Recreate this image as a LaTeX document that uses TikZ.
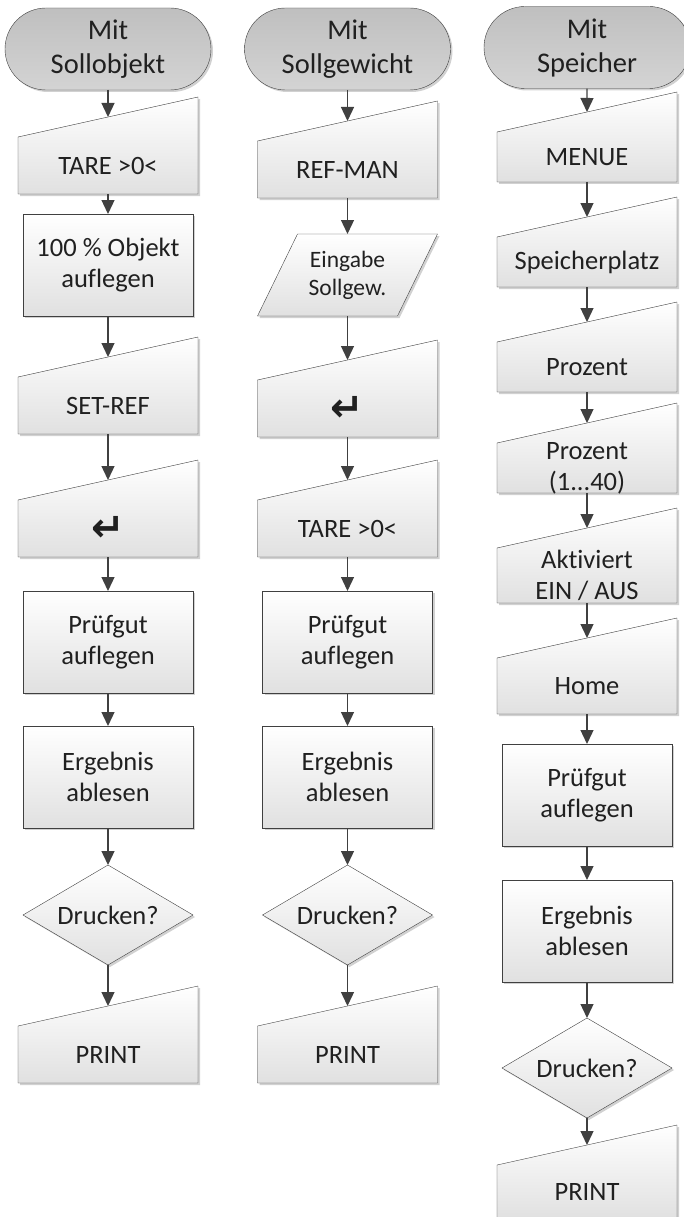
\documentclass[tikz,border=0pt]{standalone}
\usepackage{fontspec}
\setmainfont{Carlito}[Ligatures=NoCommon]
\newfontfamily\symbolfont{DejaVu Sans}
\usepackage{xcolor}
\usepackage{tikz}
\usetikzlibrary{calc, positioning, arrows.meta, shapes.geometric, shapes.misc, shadows, backgrounds}
\definecolor{linegray}{HTML}{404040}
\definecolor{textgray}{HTML}{202020}
\newcommand{\returnkey}{{\symbolfont\bfseries\fontsize{40}{40}\selectfont ↵}}
\newcommand{\squeezed}[2]{\parbox[c][#1][c]{180pt}{\centering #2}}
\tikzset{
	node distance = 40pt,
	line width = 1.2pt,
	>={Triangle[length=14pt, width=13pt]},
	every node/.style={
		font=\fontsize{26.5}{31}\selectfont,
		text=textgray,
		align=center,
		inner sep=0pt,
		outer sep=0pt
	},
	softshadow/.style={
		drop shadow={shadow xshift=2pt, shadow yshift=-2pt, fill=black, opacity=.18}
	},
	terminal/.style={
		draw=linegray,
		rounded rectangle,
		minimum width=206pt,
		minimum height=82pt,
		top color=black!25,
		bottom color=black!17,
		softshadow,
		font=\fontsize{28.5}{34}\selectfont
	},
	process/.style={
		draw=linegray,
		rectangle,
		minimum width=170pt,
		minimum height=102pt,
		top color=white,
		bottom color=black!12,
		softshadow
	},
	decision/.style={
		draw=linegray,
		diamond,
		aspect=1.7,
		minimum width=170pt,
		minimum height=100pt,
		top color=white,
		bottom color=black!12,
		softshadow
	},
	inputbox/.style={
		rectangle,
		minimum width=180pt,
		minimum height=57pt
	},
	databox/.style={
		rectangle,
		minimum width=180pt,
		minimum height=82pt,
		font=\fontsize{23.5}{28}\selectfont
	},
	inputshape/.style={
		draw=linegray,
		top color=white,
		bottom color=black!12,
		softshadow
	},
	edge/.style={
		->,
		draw=linegray,
		line width=1.3pt
	}
}

\begin{document}
\begin{tikzpicture}
\useasboundingbox (0,0) rectangle (683pt,-1217pt);

% ---
% Mit Sollobjekt
% ---
\node[terminal] (s0) at (108pt,-49pt) {Mit\\Sollobjekt};
\node[inputbox, below=47pt of s0] (s1) {TARE >0<};
\node[process, below=20pt of s1] (s2) {100 \% Objekt\\auflegen};
\node[inputbox, below=61pt of s2] (s3) {SET-REF};
\node[inputbox, below=66pt of s3] (s4) {\returnkey};
\node[process, below=34pt of s4] (s5) {Prüfgut\\auflegen};
\node[process, below=33pt of s5] (s6) {Ergebnis\\ablesen};
\node[decision, below=37pt of s6] (s7) {Drucken?};
\node[inputbox, below=61pt of s7] (s8) {PRINT};

% ---
% Mit Sollgewicht
% ---
\node[terminal] (g0) at (347.5pt,-49pt) {Mit\\Sollgewicht};
\node[inputbox, below=51pt of g0] (g1) {REF-MAN};
\node[databox, below=36pt of g1] (g2) {Eingabe\\Sollgew.};
\node[inputbox, below=64pt of g2] (g3) {\returnkey};
\node[inputbox, below=63pt of g3] (g4) {TARE >0<};
\node[process, below=34pt of g4] (g5) {Prüfgut\\auflegen};
\node[process, below=33pt of g5] (g6) {Ergebnis\\ablesen};
\node[decision, below=37pt of g6] (g7) {Drucken?};
\node[inputbox, below=61pt of g7] (g8) {PRINT};

% ---
% Mit Speicher
% ---
\node[terminal] (p0) at (587pt,-47.5pt) {Mit\\Speicher};
\node[inputbox, minimum height=50pt, below=43.5pt of p0] (p1) {MENUE};
\node[inputbox, minimum height=50pt, below=55pt of p1] (p2) {Speicherplatz};
\node[inputbox, minimum height=50pt, below=55pt of p2] (p3) {Prozent};
\node[inputbox, minimum height=50pt, below=51pt of p3] (p4) {\squeezed{50pt}{Prozent\\(1...40)}};
\node[inputbox, minimum height=55pt, below=55pt of p4] (p5) {\squeezed{55pt}{Aktiviert\\EIN / AUS}};
\node[inputbox, minimum height=56pt, below=55pt of p5] (p6) {Home};
\node[process, below=30pt of p6] (p7) {Prüfgut\\auflegen};
\node[process, below=34pt of p7] (p8) {Ergebnis\\ablesen};
\node[decision, below=36pt of p8] (p9) {Drucken?};
\node[inputbox, minimum height=54pt, below=47pt of p9] (p10) {PRINT};

% ---
% Shapes of the input boxes
% ---
\begin{scope}[on background layer]
\foreach \n in {s1,s3,s4,s8,g1,g3,g4,g8,p1,p2,p3,p4,p5,p6,p10} {
	\draw[inputshape] (\n.south west) -- (\n.south east) -- ([yshift=40pt]\n.north east) -- (\n.north west) -- cycle;
	\coordinate (\n-in) at ([yshift=20pt]\n.north);
}
\draw[inputshape] (g2.south west) -- ([xshift=-40pt]g2.south east) -- (g2.north east) -- ([xshift=40pt]g2.north west) -- cycle;
\end{scope}
\foreach \n in {s2,s5,s6,s7,g2,g5,g6,g7,p7,p8,p9} {
	\coordinate (\n-in) at (\n.north);
}

% ---
% Transitions
% ---
\foreach \i in {0,...,7} {
	\pgfmathtruncatemacro{\next}{\i + 1}
	\draw[edge] (s\i) -- (s\next-in);
	\draw[edge] (g\i) -- (g\next-in);
};
\foreach \i in {0,...,9} {
	\pgfmathtruncatemacro{\next}{\i + 1}
	\draw[edge] (p\i) -- (p\next-in);
}
\end{tikzpicture}
\end{document}
